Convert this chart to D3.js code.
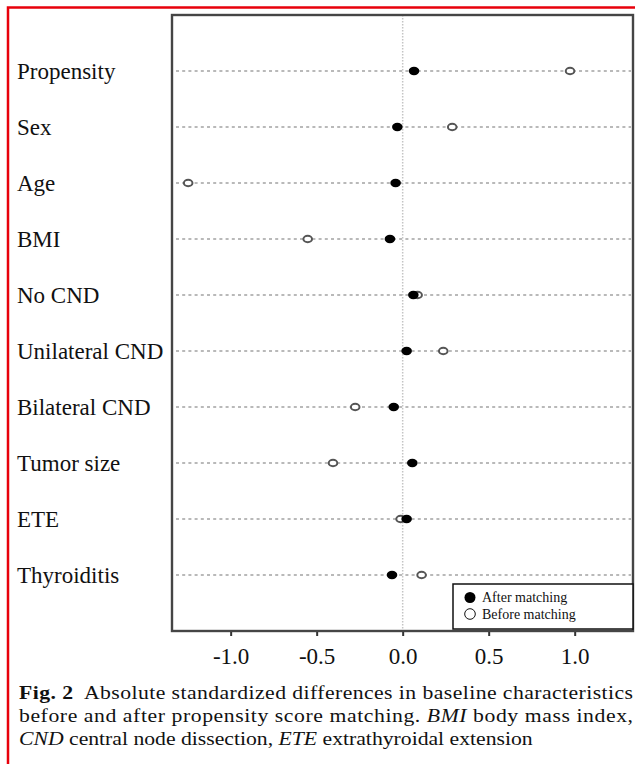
<!DOCTYPE html>
<html>
  <head>
    <meta charset="utf-8">
    <title>Standardized differences</title>
    <script src="https://d3js.org/d3.v7.min.js"></script>
    <style>
      body{ margin:0; background:#fff; }
      text{ font-family: 'Liberation Serif', 'Times New Roman', serif; fill:#111; }
    </style>
  </head>
  <body>
    <svg></svg>
    <script>

    //begin: data
    var categories = ["Propensity", "Sex", "Age", "BMI", "No CND", "Unilateral CND",
                      "Bilateral CND", "Tumor size", "ETE", "Thyroiditis"];
    var beforeValues = [0.973, 0.288, -1.247, -0.552, 0.087, 0.236, -0.276, -0.405, -0.012, 0.110];
    var afterValues  = [0.066, -0.031, -0.041, -0.074, 0.062, 0.023, -0.052, 0.056, 0.023, -0.062];
    var xTicks = [-1.0, -0.5, 0.0, 0.5, 1.0];
    var legendLabels = ["After matching", "Before matching"];
    //end: data

    //begin: layout conf.
    var svgWidth = 635,
        svgHeight = 764,
        plot = {left: 172, top: 15, right: 633, bottom: 631},
        captionLeft = 19,
        captionWidth = 614,
        lastLineWidth = 514;
    //end: layout conf.

    var svg = d3.select("svg")
      .attr("width", svgWidth)
      .attr("height", svgHeight);

    var x = d3.scaleLinear().domain([-1.341, 1.339]).range([plot.left, plot.right]);
    var y = d3.scalePoint().domain(categories).range([plot.top, plot.bottom]).padding(1);

    // red outer frame
    svg.append("rect")
      .attr("x", 8).attr("y", 7.5)
      .attr("width", 640).attr("height", 780)
      .attr("fill", "none").attr("stroke", "#e8000b").attr("stroke-width", 2.5);

    // zero reference line
    svg.append("line")
      .attr("x1", x(0)).attr("x2", x(0))
      .attr("y1", plot.top).attr("y2", plot.bottom)
      .attr("stroke", "#c4c4c4").attr("stroke-width", 1.5)
      .attr("stroke-dasharray", "1.5,1.5");

    // row guides
    svg.append("g").selectAll("line")
      .data(categories)
      .enter().append("line")
        .attr("x1", plot.left + 4).attr("x2", plot.right - 2)
        .attr("y1", function(d){ return y(d); })
        .attr("y2", function(d){ return y(d); })
        .attr("stroke", "#b9b9b9").attr("stroke-width", 1.8)
        .attr("stroke-dasharray", "3,3.2");

    // row labels
    svg.append("g").selectAll("text")
      .data(categories)
      .enter().append("text")
        .attr("x", 17)
        .attr("y", function(d){ return y(d) + 7.5; })
        .style("font-size", "23px")
        .text(function(d){ return d; });

    // before matching (open)
    svg.append("g").selectAll("ellipse")
      .data(categories)
      .enter().append("ellipse")
        .attr("cx", function(d, i){ return x(beforeValues[i]); })
        .attr("cy", function(d){ return y(d); })
        .attr("rx", 4.3).attr("ry", 3.2)
        .attr("fill", "#fff").attr("stroke", "#555").attr("stroke-width", 2);

    // after matching (filled)
    svg.append("g").selectAll("ellipse")
      .data(categories)
      .enter().append("ellipse")
        .attr("cx", function(d, i){ return x(afterValues[i]); })
        .attr("cy", function(d){ return y(d); })
        .attr("rx", 5.3).attr("ry", 4.2)
        .attr("fill", "#000");

    // plot box
    svg.append("rect")
      .attr("x", plot.left).attr("y", plot.top)
      .attr("width", plot.right - plot.left).attr("height", plot.bottom - plot.top)
      .attr("fill", "none").attr("stroke", "#454545").attr("stroke-width", 2.4);

    // x axis
    var xAxis = d3.axisBottom(x)
      .tickValues(xTicks)
      .tickSize(4)
      .tickPadding(12)
      .tickFormat(d3.format(".1f"));

    var gx = svg.append("g")
      .attr("transform", "translate(0," + (plot.bottom + 1) + ")")
      .call(xAxis);
    gx.select(".domain").remove();
    gx.selectAll(".tick line").attr("stroke", "#333").attr("stroke-width", 2);
    gx.selectAll(".tick text")
      .attr("font-family", "'Liberation Serif', serif")
      .style("font-size", "23px").attr("fill", "#111")
      .text(function(d){ return d3.format(".1f")(d).replace("\u2212", "-"); });

    // legend
    var legend = svg.append("g").attr("transform", "translate(453,584)");
    legend.append("rect")
      .attr("width", 180).attr("height", 45)
      .attr("fill", "#fff").attr("stroke", "#111").attr("stroke-width", 1.5);
    legend.append("circle")
      .attr("cx", 17).attr("cy", 13.5).attr("r", 5.5).attr("fill", "#000");
    legend.append("circle")
      .attr("cx", 17).attr("cy", 30).attr("r", 5.3)
      .attr("fill", "#fff").attr("stroke", "#111").attr("stroke-width", 1);
    legend.selectAll("text.lab")
      .data(legendLabels)
      .enter().append("text")
        .attr("class", "lab")
        .attr("x", 29)
        .attr("y", function(d, i){ return 18 + i * 16.5; })
        .style("font-size", "14px")
        .text(function(d){ return d; });

    // caption (stretched horizontally like the printed figure)
    var cap = svg.append("g").style("font-size", "18px");
    var l1 = cap.append("text").attr("y", 699);
    l1.append("tspan").style("font-weight", "bold").text("Fig. 2");
    l1.append("tspan").text("\u00a0 Absolute standardized differences in baseline characteristics");

    var l2 = cap.append("text").attr("y", 722);
    l2.append("tspan").text("before and after propensity score matching. ");
    l2.append("tspan").style("font-style", "italic").text("BMI");
    l2.append("tspan").text(" body mass index,");

    var l3 = cap.append("text").attr("y", 745);
    l3.append("tspan").style("font-style", "italic").text("CND");
    l3.append("tspan").text(" central node dissection, ");
    l3.append("tspan").style("font-style", "italic").text("ETE");
    l3.append("tspan").text(" extrathyroidal extension");

    var sx = lastLineWidth / l3.node().getComputedTextLength();
    cap.attr("transform", "translate(" + captionLeft + ",0) scale(" + sx + ",1)");
    l1.attr("textLength", captionWidth / sx).attr("lengthAdjust", "spacing");
    l2.attr("textLength", captionWidth / sx).attr("lengthAdjust", "spacing");

    </script>
  </body>
</html>
